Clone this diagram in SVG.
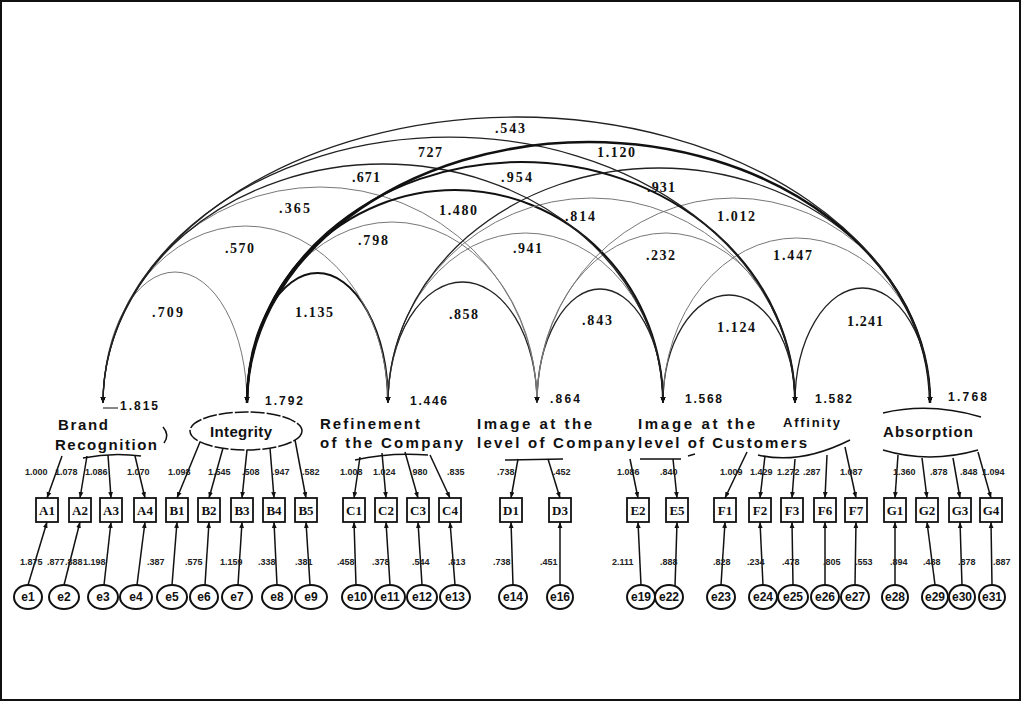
<svg xmlns="http://www.w3.org/2000/svg" width="1021" height="701" viewBox="0 0 1021 701">
<style>
.fac{font-family:"Liberation Sans",Arial,sans-serif;font-size:15px;font-weight:bold;fill:#111}
.var{font-family:"Liberation Sans",Arial,sans-serif;font-size:12px;font-weight:bold;fill:#111}
.cov{font-family:"Liberation Serif","Times New Roman",serif;font-size:14px;font-weight:bold;fill:#111}
.ld{font-family:"Liberation Sans",Arial,sans-serif;font-size:9px;font-weight:bold;fill:#222}
.box rect{fill:#fff;stroke:#111;stroke-width:1.8}
.box text{font-family:"Liberation Serif","Times New Roman",serif;font-size:13px;font-weight:bold;text-anchor:middle;fill:#111}
.err ellipse{fill:#fff;stroke:#111;stroke-width:2}
.err text{font-family:"Liberation Sans",Arial,sans-serif;font-size:12px;font-weight:bold;text-anchor:middle;fill:#111}
.fsh{fill:none;stroke:#111;stroke-width:1.5}
.aD{fill:none;stroke:#111;stroke-width:2;marker-start:url(#ah);marker-end:url(#ah)}
.aM{fill:none;stroke:#222;stroke-width:1.3;marker-start:url(#ah);marker-end:url(#ah)}
.aL{fill:none;stroke:#777;stroke-width:1;marker-start:url(#ah);marker-end:url(#ah)}
.ln{stroke:#111;stroke-width:1.5;fill:none;marker-end:url(#ah)}
</style>
<defs>
<marker id="ah" viewBox="0 0 10 10" refX="10" refY="5" markerWidth="6" markerHeight="6" markerUnits="userSpaceOnUse" orient="auto-start-reverse">
<path d="M0,1 L10,5 L0,9 z" fill="#111"/>
</marker>
</defs>
<rect x="1" y="1" width="1019" height="699" fill="#fff" stroke="#111" stroke-width="2"/>

<g id="connectors">
<g id="covariances">
<path class="aL" d="M103 403 A72 131 0 0 1 247 403"/>
<path class="aD" d="M247 403 A70.5 130 0 0 1 388 403"/>
<path class="aM" d="M388 403 A74.5 121 0 0 1 537 403"/>
<path class="aM" d="M537 403 A63 114 0 0 1 663 403"/>
<path class="aM" d="M663 403 A66 108 0 0 1 795 403"/>
<path class="aM" d="M795 403 A67.5 115 0 0 1 930 403"/>
<path class="aL" d="M103 403 A142.5 177 0 0 1 388 403"/>
<path class="aL" d="M247 403 A145 181 0 0 1 537 403"/>
<path class="aL" d="M388 403 A137.5 170 0 0 1 663 403"/>
<path class="aL" d="M537 403 A129 170 0 0 1 795 403"/>
<path class="aL" d="M663 403 A133.5 165 0 0 1 930 403"/>
<path class="aL" d="M103 403 A217 216 0 0 1 537 403"/>
<path class="aD" d="M247 403 A208 213 0 0 1 663 403"/>
<path class="aL" d="M388 403 A203.5 205 0 0 1 795 403"/>
<path class="aL" d="M537 403 A196.5 205 0 0 1 930 403"/>
<path class="aM" d="M103 403 A280 239 0 0 1 663 403"/>
<path class="aD" d="M247 403 A274 241 0 0 1 795 403"/>
<path class="aM" d="M388 403 A271 235 0 0 1 930 403"/>
<path class="aM" d="M103 403 A346 266 0 0 1 795 403"/>
<path class="aD" d="M247 403 A341.5 261 0 0 1 930 403" style="stroke-width:2.6"/>
<path class="aM" d="M103 403 A413.5 286 0 0 1 930 403"/>
</g>
<g id="cov-labels" class="cov">
<text x="495" y="133" textLength="30">.543</text>
<text x="418" y="157" textLength="24">727</text>
<text x="597" y="157" textLength="38">1.120</text>
<text x="352" y="182" textLength="28">.671</text>
<text x="501" y="182" textLength="31">.954</text>
<text x="647" y="192" textLength="28">.931</text>
<text x="279" y="213" textLength="31">.365</text>
<text x="439" y="215" textLength="38">1.480</text>
<text x="565" y="221" textLength="30">.814</text>
<text x="717" y="221" textLength="38">1.012</text>
<text x="225" y="253" textLength="29">.570</text>
<text x="358" y="245" textLength="30">.798</text>
<text x="513" y="253" textLength="29">.941</text>
<text x="646" y="260" textLength="29">.232</text>
<text x="773" y="260" textLength="39">1.447</text>
<text x="152" y="317" textLength="31">.709</text>
<text x="295" y="317" textLength="38">1.135</text>
<text x="449" y="319" textLength="29">.858</text>
<text x="582" y="325" textLength="30">.843</text>
<text x="717" y="332" textLength="38">1.124</text>
<text x="847" y="326" textLength="36">1.241</text>
</g>
<g id="loadings">
<line class="ln" x1="62" y1="456" x2="47" y2="498"/>
<line class="ln" x1="87" y1="456" x2="80" y2="498"/>
<line class="ln" x1="108" y1="455" x2="111" y2="498"/>
<line class="ln" x1="135" y1="456" x2="145" y2="498"/>
<line class="ln" x1="200" y1="442" x2="177" y2="498"/>
<line class="ln" x1="223" y1="448" x2="209" y2="498"/>
<line class="ln" x1="247" y1="450" x2="242" y2="498"/>
<line class="ln" x1="270" y1="448" x2="274" y2="498"/>
<line class="ln" x1="295" y1="440" x2="306" y2="498"/>
<line class="ln" x1="360" y1="457" x2="354" y2="498"/>
<line class="ln" x1="382" y1="453" x2="386" y2="498"/>
<line class="ln" x1="405" y1="452" x2="418" y2="498"/>
<line class="ln" x1="430" y1="455" x2="450" y2="498"/>
<line class="ln" x1="518" y1="459" x2="511" y2="498"/>
<line class="ln" x1="548" y1="459" x2="560" y2="498"/>
<line class="ln" x1="630" y1="459" x2="638" y2="498"/>
<line class="ln" x1="673" y1="459" x2="677" y2="498"/>
<line class="ln" x1="747" y1="452" x2="725" y2="498"/>
<line class="ln" x1="765" y1="456" x2="760" y2="498"/>
<line class="ln" x1="795" y1="459" x2="792" y2="498"/>
<line class="ln" x1="827" y1="455" x2="825" y2="498"/>
<line class="ln" x1="845" y1="447" x2="856" y2="498"/>
<line class="ln" x1="898" y1="455" x2="895" y2="498"/>
<line class="ln" x1="922" y1="458" x2="927" y2="498"/>
<line class="ln" x1="953" y1="458" x2="960" y2="498"/>
<line class="ln" x1="978" y1="452" x2="991" y2="498"/>
</g>
<g id="error-paths">
<line class="ln" x1="28" y1="585" x2="47" y2="522"/>
<line class="ln" x1="64" y1="585" x2="80" y2="522"/>
<line class="ln" x1="104" y1="585" x2="111" y2="522"/>
<line class="ln" x1="137" y1="585" x2="145" y2="522"/>
<line class="ln" x1="172" y1="585" x2="177" y2="522"/>
<line class="ln" x1="205" y1="585" x2="209" y2="522"/>
<line class="ln" x1="238" y1="585" x2="242" y2="522"/>
<line class="ln" x1="277" y1="585" x2="274" y2="522"/>
<line class="ln" x1="310" y1="585" x2="306" y2="522"/>
<line class="ln" x1="356" y1="585" x2="354" y2="522"/>
<line class="ln" x1="390" y1="585" x2="386" y2="522"/>
<line class="ln" x1="422" y1="585" x2="418" y2="522"/>
<line class="ln" x1="455" y1="585" x2="450" y2="522"/>
<line class="ln" x1="513" y1="585" x2="511" y2="522"/>
<line class="ln" x1="560" y1="585" x2="560" y2="522"/>
<line class="ln" x1="641" y1="585" x2="638" y2="522"/>
<line class="ln" x1="675" y1="587" x2="677" y2="522"/>
<line class="ln" x1="721" y1="585" x2="725" y2="522"/>
<line class="ln" x1="763" y1="585" x2="760" y2="522"/>
<line class="ln" x1="793" y1="585" x2="792" y2="522"/>
<line class="ln" x1="825" y1="585" x2="825" y2="522"/>
<line class="ln" x1="855" y1="585" x2="856" y2="522"/>
<line class="ln" x1="895" y1="585" x2="895" y2="522"/>
<line class="ln" x1="935" y1="585" x2="927" y2="522"/>
<line class="ln" x1="962" y1="585" x2="960" y2="522"/>
<line class="ln" x1="992" y1="585" x2="991" y2="522"/>
</g>
<g id="loading-labels" class="ld">
<text x="25" y="475">1.000</text><text x="55" y="475">1.078</text><text x="85" y="475">1.086</text><text x="127" y="475">1.070</text>
<text x="168" y="475">1.098</text><text x="208" y="475">1.545</text><text x="242" y="475">.508</text><text x="272" y="475">.947</text><text x="302" y="475">.582</text>
<text x="340" y="475">1.008</text><text x="373" y="475">1.024</text><text x="410" y="475">.980</text><text x="447" y="475">.835</text>
<text x="497" y="475">.738</text><text x="553" y="475">.452</text>
<text x="617" y="475">1.086</text><text x="660" y="475">.840</text>
<text x="720" y="475">1.009</text><text x="750" y="475">1.429</text><text x="777" y="475">1.272</text><text x="803" y="475">.287</text><text x="840" y="475">1.087</text>
<text x="893" y="475">1.360</text><text x="930" y="475">.878</text><text x="960" y="475">.848</text><text x="982" y="475">1.094</text>
</g>
<g id="error-labels" class="ld">
<text x="20" y="565">1.875</text><text x="47" y="565">.877</text><text x="65" y="565">.888</text><text x="83" y="565">1.198</text>
<text x="147" y="565">.387</text><text x="185" y="565">.575</text><text x="220" y="565">1.159</text><text x="258" y="565">.338</text><text x="295" y="565">.381</text>
<text x="337" y="565">.458</text><text x="372" y="565">.378</text><text x="412" y="565">.544</text><text x="448" y="565">.813</text>
<text x="493" y="565">.738</text><text x="540" y="565">.451</text>
<text x="612" y="565">2.111</text><text x="660" y="565">.888</text>
<text x="713" y="565">.828</text><text x="747" y="565">.234</text><text x="782" y="565">.478</text><text x="823" y="565">.805</text><text x="855" y="565">.553</text>
<text x="890" y="565">.894</text><text x="923" y="565">.488</text><text x="958" y="565">.878</text><text x="993" y="565">.887</text>
</g>
</g>

<g id="f_brand">
<path class="fsh" d="M83 458 Q112 452 141 456"/>
<path class="fsh" d="M163 427 Q170 435 164 443"/>
<line x1="103" y1="408" x2="118" y2="408" stroke="#111" stroke-width="1"/>
<text class="fac" x="58" y="430" textLength="50">Brand</text>
<text class="fac" x="55" y="450" textLength="102">Recognition</text>
<text class="var" x="120" y="410" textLength="38">1.815</text>
</g>
<g id="f_integrity">
<ellipse class="fsh" cx="246" cy="431" rx="56" ry="19" stroke-dasharray="14 2"/>
<text class="fac" x="210" y="437" textLength="62">Integrity</text>
<text class="var" x="265" y="405" textLength="38">1.792</text>
</g>
<g id="f_refinement">
<path class="fsh" d="M355 460 Q390 452 428 455"/>
<text class="fac" x="320" y="429" textLength="100">Refinement</text>
<text class="fac" x="320" y="448" textLength="143">of the Company</text>
<text class="var" x="410" y="405" textLength="37">1.446</text>
</g>
<g id="f_imgcompany">
<path class="fsh" d="M505 460 L563 459"/>
<text class="fac" x="477" y="429" textLength="115">Image at the</text>
<text class="fac" x="477" y="448" textLength="158">level of Company</text>
<text class="var" x="550" y="403" textLength="30">.864</text>
</g>
<g id="f_imgcustomers">
<path class="fsh" d="M640 459 L681 459 M688 456 L695 454"/>
<text class="fac" x="638" y="429" textLength="117">Image at the</text>
<text class="fac" x="638" y="448" textLength="169">level of Customers</text>
<text class="var" x="685" y="403" textLength="37">1.568</text>
</g>
<g id="f_affinity">
<path class="fsh" d="M758 455 Q800 465 850 440"/>
<text class="fac" x="783" y="427" textLength="57" style="font-size:13px">Affinity</text>
<text class="var" x="815" y="403" textLength="37">1.582</text>
</g>
<g id="f_absorption">
<path class="fsh" d="M883 413 Q930 402 981 417"/>
<path class="fsh" d="M883 450 Q929 464 978 450"/>
<text class="fac" x="883" y="437" textLength="90">Absorption</text>
<text class="var" x="948" y="401" textLength="39">1.768</text>
</g>

<g id="indicators">
<g id="n_A1" class="box"><rect x="36" y="498" width="22" height="24"/><text x="47" y="515">A1</text></g>
<g id="n_A2" class="box"><rect x="69" y="498" width="22" height="24"/><text x="80" y="515">A2</text></g>
<g id="n_A3" class="box"><rect x="100" y="498" width="22" height="24"/><text x="111" y="515">A3</text></g>
<g id="n_A4" class="box"><rect x="134" y="498" width="22" height="24"/><text x="145" y="515">A4</text></g>
<g id="n_B1" class="box"><rect x="166" y="498" width="22" height="24"/><text x="177" y="515">B1</text></g>
<g id="n_B2" class="box"><rect x="198" y="498" width="22" height="24"/><text x="209" y="515">B2</text></g>
<g id="n_B3" class="box"><rect x="231" y="498" width="22" height="24"/><text x="242" y="515">B3</text></g>
<g id="n_B4" class="box"><rect x="263" y="498" width="22" height="24"/><text x="274" y="515">B4</text></g>
<g id="n_B5" class="box"><rect x="295" y="498" width="22" height="24"/><text x="306" y="515">B5</text></g>
<g id="n_C1" class="box"><rect x="343" y="498" width="22" height="24"/><text x="354" y="515">C1</text></g>
<g id="n_C2" class="box"><rect x="375" y="498" width="22" height="24"/><text x="386" y="515">C2</text></g>
<g id="n_C3" class="box"><rect x="407" y="498" width="22" height="24"/><text x="418" y="515">C3</text></g>
<g id="n_C4" class="box"><rect x="439" y="498" width="22" height="24"/><text x="450" y="515">C4</text></g>
<g id="n_D1" class="box"><rect x="500" y="498" width="22" height="24"/><text x="511" y="515">D1</text></g>
<g id="n_D3" class="box"><rect x="549" y="498" width="22" height="24"/><text x="560" y="515">D3</text></g>
<g id="n_E2" class="box"><rect x="627" y="498" width="22" height="24"/><text x="638" y="515">E2</text></g>
<g id="n_E5" class="box"><rect x="666" y="498" width="22" height="24"/><text x="677" y="515">E5</text></g>
<g id="n_F1" class="box"><rect x="714" y="498" width="22" height="24"/><text x="725" y="515">F1</text></g>
<g id="n_F2" class="box"><rect x="749" y="498" width="22" height="24"/><text x="760" y="515">F2</text></g>
<g id="n_F3" class="box"><rect x="781" y="498" width="22" height="24"/><text x="792" y="515">F3</text></g>
<g id="n_F6" class="box"><rect x="814" y="498" width="22" height="24"/><text x="825" y="515">F6</text></g>
<g id="n_F7" class="box"><rect x="845" y="498" width="22" height="24"/><text x="856" y="515">F7</text></g>
<g id="n_G1" class="box"><rect x="884" y="498" width="22" height="24"/><text x="895" y="515">G1</text></g>
<g id="n_G2" class="box"><rect x="916" y="498" width="22" height="24"/><text x="927" y="515">G2</text></g>
<g id="n_G3" class="box"><rect x="949" y="498" width="22" height="24"/><text x="960" y="515">G3</text></g>
<g id="n_G4" class="box"><rect x="980" y="498" width="22" height="24"/><text x="991" y="515">G4</text></g>
</g>

<g id="errors">
<g id="n_e1" class="err"><ellipse cx="28" cy="597" rx="14" ry="12"/><text x="28" y="601">e1</text></g>
<g id="n_e2" class="err"><ellipse cx="64" cy="597" rx="15" ry="12"/><text x="64" y="601">e2</text></g>
<g id="n_e3" class="err"><ellipse cx="103" cy="597" rx="15" ry="12"/><text x="103" y="601">e3</text></g>
<g id="n_e4" class="err"><ellipse cx="136" cy="597" rx="16" ry="12"/><text x="136" y="601">e4</text></g>
<g id="n_e5" class="err"><ellipse cx="172" cy="597" rx="15" ry="12"/><text x="172" y="601">e5</text></g>
<g id="n_e6" class="err"><ellipse cx="204" cy="597" rx="14" ry="12"/><text x="204" y="601">e6</text></g>
<g id="n_e7" class="err"><ellipse cx="237" cy="597" rx="15" ry="12"/><text x="237" y="601">e7</text></g>
<g id="n_e8" class="err"><ellipse cx="277" cy="597" rx="15" ry="12"/><text x="277" y="601">e8</text></g>
<g id="n_e9" class="err"><ellipse cx="311" cy="597" rx="16" ry="12"/><text x="311" y="601">e9</text></g>
<g id="n_e10" class="err"><ellipse cx="357" cy="597" rx="15" ry="12"/><text x="357" y="601">e10</text></g>
<g id="n_e11" class="err"><ellipse cx="390" cy="597" rx="15" ry="12"/><text x="390" y="601">e11</text></g>
<g id="n_e12" class="err"><ellipse cx="422" cy="597" rx="15" ry="12"/><text x="422" y="601">e12</text></g>
<g id="n_e13" class="err"><ellipse cx="455" cy="597" rx="15" ry="12"/><text x="455" y="601">e13</text></g>
<g id="n_e14" class="err"><ellipse cx="513" cy="597" rx="14" ry="12"/><text x="513" y="601">e14</text></g>
<g id="n_e16" class="err"><ellipse cx="560" cy="597" rx="13" ry="12"/><text x="560" y="601">e16</text></g>
<g id="n_e19" class="err"><ellipse cx="641" cy="597" rx="14" ry="12"/><text x="641" y="601">e19</text></g>
<g id="n_e22" class="err"><ellipse cx="669" cy="597" rx="14" ry="12"/><text x="669" y="601">e22</text></g>
<g id="n_e23" class="err"><ellipse cx="721" cy="597" rx="14" ry="12"/><text x="721" y="601">e23</text></g>
<g id="n_e24" class="err"><ellipse cx="763" cy="597" rx="14" ry="12"/><text x="763" y="601">e24</text></g>
<g id="n_e25" class="err"><ellipse cx="793" cy="597" rx="15" ry="12"/><text x="793" y="601">e25</text></g>
<g id="n_e26" class="err"><ellipse cx="825" cy="597" rx="14" ry="12"/><text x="825" y="601">e26</text></g>
<g id="n_e27" class="err"><ellipse cx="855" cy="597" rx="14" ry="12"/><text x="855" y="601">e27</text></g>
<g id="n_e28" class="err"><ellipse cx="895" cy="597" rx="13" ry="12"/><text x="895" y="601">e28</text></g>
<g id="n_e29" class="err"><ellipse cx="935" cy="597" rx="13" ry="12"/><text x="935" y="601">e29</text></g>
<g id="n_e30" class="err"><ellipse cx="962" cy="597" rx="13" ry="12"/><text x="962" y="601">e30</text></g>
<g id="n_e31" class="err"><ellipse cx="992" cy="597" rx="13" ry="12"/><text x="992" y="601">e31</text></g>
</g>
</svg>
